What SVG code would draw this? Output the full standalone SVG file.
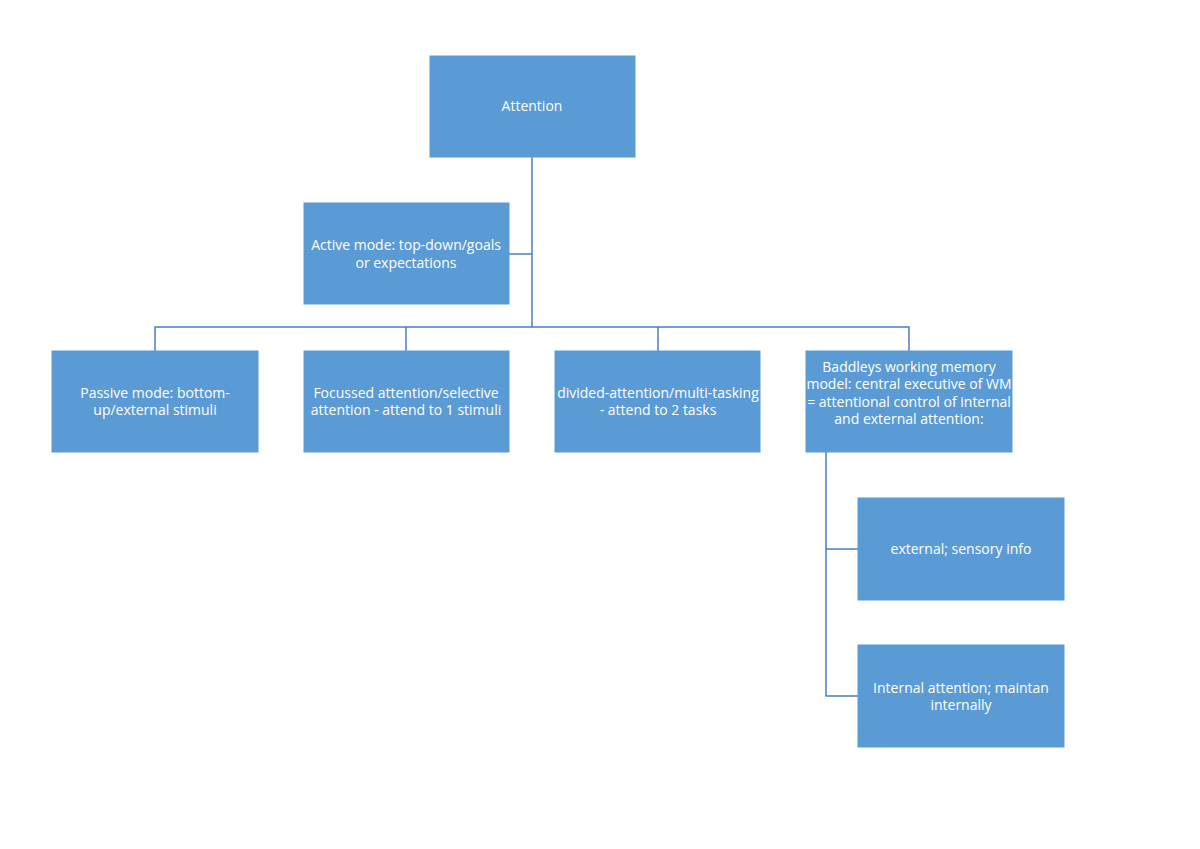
<svg xmlns="http://www.w3.org/2000/svg" width="1200" height="849" viewBox="0 0 1200 849">
<style>
.box{fill:#5B9BD5;stroke:#5B9BD5;stroke-width:1}
.t{font-family:"Open Sans","Liberation Sans",sans-serif;font-size:14px;fill:#ffffff;text-anchor:middle;dominant-baseline:central}
.c{fill:none;stroke:#4A7EBB;stroke-width:1.5}
</style>
<rect width="1200" height="849" fill="#ffffff"/>
<g id="connectors">
<path class="c" d="M532,157 V327"/>
<path class="c" d="M509,254 H532"/>
<path class="c" d="M155,351 V327 H909 V351"/>
<path class="c" d="M406,327 V351"/>
<path class="c" d="M658,327 V351"/>
<path class="c" d="M826,452 V696 H858"/>
<path class="c" d="M826,549 H858"/>
</g>
<g id="attention"><rect class="box" x="430" y="56" width="205" height="101"/><text class="t" x="532" y="105">Attention</text></g>
<g id="active"><rect class="box" x="304" y="203" width="205" height="101"/><text class="t" x="406" y="244">Active mode: top-down/goals</text><text class="t" x="406" y="262">or expectations</text></g>
<g id="passive"><rect class="box" x="52" y="351" width="206" height="101"/><text class="t" x="155" y="392">Passive mode: bottom-</text><text class="t" x="155" y="409">up/external stimuli</text></g>
<g id="focussed"><rect class="box" x="304" y="351" width="205" height="101"/><text class="t" x="406" y="392">Focussed attention/selective</text><text class="t" x="406" y="409">attention - attend to 1 stimuli</text></g>
<g id="divided"><rect class="box" x="555" y="351" width="205" height="101"/><text class="t" x="658" y="392">divided-attention/multi-tasking</text><text class="t" x="658" y="409">- attend to 2 tasks</text></g>
<g id="baddeley"><rect class="box" x="806" y="351" width="206" height="101"/><text class="t" x="909" y="366">Baddleys working memory</text><text class="t" x="909" y="383">model: central executive of WM</text><text class="t" x="909" y="401">= attentional control of internal</text><text class="t" x="909" y="418">and external attention:</text></g>
<g id="external"><rect class="box" x="858" y="498" width="206" height="102"/><text class="t" x="961" y="548">external; sensory info</text></g>
<g id="internal"><rect class="box" x="858" y="645" width="206" height="102"/><text class="t" x="961" y="687">Internal attention; maintan</text><text class="t" x="961" y="704">internally</text></g>
</svg>
